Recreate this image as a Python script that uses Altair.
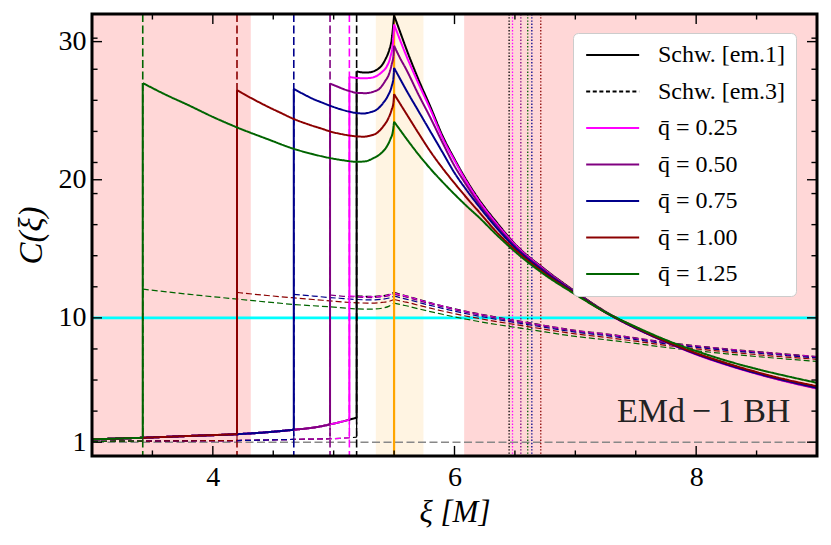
import altair as alt
import pandas as pd

FONT = "Liberation Serif, Times New Roman, DejaVu Serif, serif"
W, H = 725, 442

# ---------------- data ----------------
SERIES = ["Schw. [em.1]", "Schw. [em.3]", "q\u0304 = 0.25", "q\u0304 = 0.50",
          "q\u0304 = 0.75", "q\u0304 = 1.00", "q\u0304 = 1.25"]
COLORS = ["#000000", "#000000", "#ff00ff", "#800080", "#00008b", "#8b0000", "#006400"]
DASHES = [[1, 0], [4, 2.6], [1, 0], [1, 0], [1, 0], [1, 0], [1, 0]]

KEYS = ["schw", "q025", "q050", "q075", "q100", "q125"]
LABEL_EM1 = {"schw": SERIES[0], "q025": SERIES[2], "q050": SERIES[3],
             "q075": SERIES[4], "q100": SERIES[5], "q125": SERIES[6]}
LABEL_EM3 = {"schw": SERIES[1], "q025": SERIES[2], "q050": SERIES[3],
             "q075": SERIES[4], "q100": SERIES[5], "q125": SERIES[6]}

X_START = {"schw": 5.19, "q025": 5.13, "q050": 4.97, "q075": 4.67, "q100": 4.2, "q125": 3.42}
X_DOTTED = {"schw": 6.452, "q025": 6.48, "q050": 6.549, "q075": 6.64, "q100": 6.714, "q125": 6.606}

# inner (left) branches, common to all models
LEFT_X = [3.0, 3.2, 3.42, 3.8, 4.2, 4.45, 4.67, 4.85, 4.97, 5.05, 5.13, 5.19]
LEFT_Y_EM1 = [1.2, 1.26, 1.32, 1.45, 1.58, 1.72, 1.9, 2.08, 2.29, 2.45, 2.63, 2.77]
LEFT_Y_EM3 = [1.06, 1.07, 1.08, 1.1, 1.12, 1.16, 1.2, 1.23, 1.25, 1.28, 1.32, 1.36]

# [em.1] outer branch up to the cusp at xi = 5.5
PRE1_X = {
    "schw": [5.19, 5.23, 5.27, 5.32, 5.36, 5.40, 5.43, 5.46, 5.48, 5.5],
    "q025": [5.13, 5.18, 5.25, 5.31, 5.36, 5.40, 5.44, 5.47, 5.49, 5.5],
    "q050": [4.97, 5.03, 5.08, 5.14, 5.2, 5.27, 5.33, 5.38, 5.425, 5.46, 5.48, 5.495, 5.5],
    "q075": [4.67, 4.75, 4.83, 4.9, 4.97, 5.05, 5.12, 5.19, 5.25, 5.3, 5.36, 5.41, 5.45, 5.48, 5.495, 5.5],
    "q100": [4.2, 4.32, 4.45, 4.56, 4.67, 4.8, 4.9, 4.97, 5.08, 5.19, 5.25, 5.3, 5.36, 5.41, 5.45, 5.48, 5.495, 5.5],
    "q125": [3.42, 3.6, 3.81, 4.0, 4.2, 4.45, 4.67, 4.83, 4.97, 5.07, 5.19, 5.26, 5.33, 5.39, 5.44, 5.47, 5.49, 5.5],
}
PRE1_Y = {
    "schw": [27.85, 27.78, 27.76, 27.82, 27.98, 28.3, 28.75, 29.4, 30.15, 31.9],
    "q025": [27.45, 27.38, 27.35, 27.38, 27.54, 27.8, 28.21, 28.9, 29.9, 31.24],
    "q050": [26.96, 26.75, 26.57, 26.4, 26.28, 26.27, 26.38, 26.6, 27.13, 27.7, 28.34, 29.0, 29.7],
    "q075": [26.57, 26.2, 25.85, 25.6, 25.36, 25.12, 24.95, 24.83, 24.8, 24.88, 25.1, 25.56, 26.1, 26.76, 27.4, 28.1],
    "q100": [26.48, 25.9, 25.31, 24.85, 24.4, 23.98, 23.7, 23.5, 23.28, 23.14, 23.12, 23.19, 23.4, 23.86, 24.4, 25.07, 25.6, 26.2],
    "q125": [27.0, 26.2, 25.35, 24.55, 23.79, 22.95, 22.24, 21.85, 21.57, 21.42, 21.3, 21.33, 21.57, 21.9, 22.41, 22.95, 23.5, 24.2],
}

# outer branch after the cusp (common xi grid)
POST_X = [5.5, 5.55, 5.6, 5.7, 5.8, 5.9, 6.0, 6.1, 6.2, 6.35, 6.5, 6.75, 7.0, 7.25, 7.5, 7.75, 8.0, 8.25, 8.5, 8.75, 9.0]
POST1_Y = {
    "schw": [31.9, 30.7, 29.5, 27.3, 25.3, 23.2, 21.5, 19.95, 18.6, 16.9, 15.35, 13.5, 11.9, 10.45, 9.3, 8.3, 7.4, 6.7, 6.0, 5.45, 4.95],
    "q025": [31.24, 30.1, 29.0, 27.0, 25.1, 23.05, 21.4, 19.85, 18.5, 16.8, 15.3, 13.45, 11.85, 10.4, 9.25, 8.25, 7.35, 6.6, 5.95, 5.38, 4.88],
    "q050": [29.7, 28.8, 28.0, 26.2, 24.5, 22.7, 21.0, 19.6, 18.3, 16.65, 15.2, 13.4, 11.85, 10.4, 9.25, 8.25, 7.37, 6.62, 5.97, 5.4, 4.9],
    "q075": [28.1, 27.3, 26.5, 25.0, 23.5, 22.0, 20.5, 19.25, 18.1, 16.5, 15.1, 13.3, 11.8, 10.4, 9.25, 8.27, 7.4, 6.65, 6.0, 5.45, 4.95],
    "q100": [26.2, 25.5, 24.8, 23.4, 22.05, 20.85, 19.75, 18.7, 17.7, 16.2, 14.95, 13.2, 11.75, 10.4, 9.3, 8.3, 7.45, 6.72, 6.08, 5.52, 5.05],
    "q125": [24.2, 23.6, 23.0, 21.85, 20.8, 19.85, 18.95, 18.1, 17.3, 16.0, 14.8, 13.1, 11.7, 10.4, 9.35, 8.4, 7.6, 6.9, 6.3, 5.78, 5.3],
}

# [em.3] outer branch up to the cusp
PRE3_X = {
    "schw": [5.19, 5.3, 5.4, 5.46, 5.5],
    "q025": [5.13, 5.2, 5.3, 5.4, 5.46, 5.5],
    "q050": [4.97, 5.08, 5.19, 5.3, 5.4, 5.46, 5.5],
    "q075": [4.67, 4.83, 4.97, 5.08, 5.19, 5.3, 5.4, 5.46, 5.5],
    "q100": [4.2, 4.45, 4.67, 4.83, 4.97, 5.08, 5.19, 5.3, 5.4, 5.46, 5.5],
    "q125": [3.42, 3.81, 4.2, 4.45, 4.67, 4.97, 5.19, 5.3, 5.4, 5.46, 5.5],
}
PRE3_Y = {
    "schw": [11.6, 11.55, 11.6, 11.7, 11.85],
    "q025": [11.6, 11.55, 11.52, 11.57, 11.66, 11.8],
    "q050": [11.65, 11.56, 11.5, 11.47, 11.52, 11.6, 11.72],
    "q075": [11.7, 11.58, 11.47, 11.4, 11.33, 11.3, 11.35, 11.44, 11.57],
    "q100": [11.84, 11.62, 11.45, 11.33, 11.23, 11.15, 11.09, 11.07, 11.12, 11.2, 11.33],
    "q125": [12.08, 11.7, 11.36, 11.15, 10.97, 10.8, 10.65, 10.63, 10.7, 10.85, 11.07],
}
POST3_Y = {
    "schw": [11.85, 11.72, 11.6, 11.35, 11.1, 10.88, 10.66, 10.47, 10.3, 10.05, 9.82, 9.45, 9.1, 8.85, 8.55, 8.23, 7.98, 7.76, 7.56, 7.38, 7.2],
    "q025": [11.8, 11.68, 11.57, 11.32, 11.07, 10.85, 10.63, 10.44, 10.27, 10.02, 9.79, 9.42, 9.07, 8.82, 8.52, 8.2, 7.95, 7.73, 7.53, 7.35, 7.18],
    "q050": [11.72, 11.6, 11.5, 11.26, 11.02, 10.8, 10.59, 10.4, 10.23, 9.98, 9.76, 9.39, 9.04, 8.79, 8.5, 8.18, 7.93, 7.71, 7.51, 7.33, 7.16],
    "q075": [11.57, 11.46, 11.36, 11.13, 10.9, 10.69, 10.48, 10.3, 10.13, 9.89, 9.67, 9.31, 8.97, 8.72, 8.43, 8.12, 7.87, 7.65, 7.45, 7.27, 7.1],
    "q100": [11.33, 11.23, 11.14, 10.92, 10.7, 10.5, 10.3, 10.12, 9.96, 9.73, 9.52, 9.17, 8.84, 8.59, 8.31, 8.01, 7.76, 7.54, 7.34, 7.16, 7.0],
    "q125": [11.07, 10.97, 10.88, 10.66, 10.45, 10.26, 10.07, 9.9, 9.74, 9.52, 9.32, 8.98, 8.66, 8.42, 8.15, 7.86, 7.62, 7.4, 7.2, 7.02, 6.85],
}

BANDS_PINK = [(3.0, 4.314), (6.08, 9.0)]
BANDS_ORANGE = [(5.349, 5.743)]
H_CYAN = 10
H_GRAY = 1
V_ORANGE = 5.5

X_MAJOR = [4, 6, 8]
X_MINOR = [3.5, 4.5, 5.0, 5.5, 6.5, 7.0, 7.5, 8.5]
Y_MAJOR = [1, 10, 20, 30]
Y_MINOR = [3.25, 5.5, 7.75, 12.25, 14.5, 16.75, 19.0, 21.25, 23.5, 25.75, 28.0, 30.25]

ANNOT_TEXT = "EMd\u2009\u2212\u20091 BH"
ANNOT_POS = (8.78, 2.45)

# tick lengths expressed in data units (major ~10 px, minor ~5.5 px)
TICK_DY = {"major": 0.73, "minor": 0.40}
TICK_DX = {"major": 0.083, "minor": 0.046}

# ---------------- encodings ----------------
XS = alt.Scale(domain=[3, 9], nice=False, zero=False)
YS = alt.Scale(domain=[0, 32], nice=False, zero=False)
XAX = alt.Axis(values=X_MAJOR, ticks=False, domain=False, grid=False, format="d",
               labelFont=FONT, labelFontSize=28, labelPadding=7, labelColor="black",
               title="\u03be [M]", titleFont=FONT, titleFontSize=31, titleFontStyle="italic",
               titleFontWeight="normal", titlePadding=6, titleColor="black")
YAX = alt.Axis(values=Y_MAJOR, ticks=False, domain=False, grid=False, format="d",
               labelFont=FONT, labelFontSize=28, labelPadding=6, labelColor="black",
               title="C(\u03be)", titleFont=FONT, titleFontSize=33, titleFontStyle="italic",
               titleFontWeight="normal", titlePadding=10, titleColor="black")


def X(f):
    return alt.X(f, type="quantitative", scale=XS, axis=XAX)


def Y(f):
    return alt.Y(f, type="quantitative", scale=YS, axis=YAX)


def XD(v):
    return alt.XDatum(v, type="quantitative", scale=XS, axis=XAX)


def YD(v):
    return alt.YDatum(v, type="quantitative", scale=YS, axis=YAX)


CSCALE = alt.Scale(domain=SERIES, range=COLORS)
DSCALE = alt.Scale(domain=SERIES, range=DASHES)
# legend line symbol: custom path from -r to 5r (r = sqrt(size)/2) -> ~53 px long
LEG = alt.Legend(orient="none", legendX=481, legendY=19, title=None,
                 fillColor="white", strokeColor="#cccccc", cornerRadius=5,
                 padding=10, rowPadding=12.5, labelFont=FONT, labelFontSize=24,
                 labelColor="black", labelOffset=51, symbolType="M-1,0H5",
                 symbolSize=312, symbolStrokeWidth=1.8, labelLimit=300)


def C():
    return alt.Color("series:N", scale=CSCALE, legend=LEG)


layers = []

# background bands
pink = pd.DataFrame(BANDS_PINK, columns=["x0", "x1"])
orng = pd.DataFrame(BANDS_ORANGE, columns=["x0", "x1"])
layers.append(alt.Chart(pink).mark_rect(color="#ffd7d7").encode(
    x=X("x0"), x2="x1", y=YD(0), y2=alt.Y2Datum(32)))
layers.append(alt.Chart(orng).mark_rect(color="#fff4e2").encode(
    x=X("x0"), x2="x1", y=YD(0), y2=alt.Y2Datum(32)))

# reference lines
layers.append(alt.Chart(pd.DataFrame({"y": [H_CYAN]})).mark_rule(
    color="#00ffff", strokeWidth=2.6).encode(y=Y("y")))
layers.append(alt.Chart(pd.DataFrame({"y": [H_GRAY]})).mark_rule(
    color="#888888", strokeWidth=1.6, strokeDash=[8, 3.5]).encode(y=Y("y")))

# dotted vertical lines
dot = pd.DataFrame({"x": [X_DOTTED[k] for k in KEYS], "series": [LABEL_EM1[k] for k in KEYS]})
layers.append(alt.Chart(dot).mark_rule(strokeWidth=1.3, strokeDash=[1.4, 1.8]).encode(
    x=X("x"), color=C()))

# dashed full-height lines at the inner edge
vst = pd.DataFrame({"x": [X_START[k] for k in KEYS], "series": [LABEL_EM1[k] for k in KEYS]})
layers.append(alt.Chart(vst).mark_rule(strokeWidth=1.6, strokeDash=[8, 3.5]).encode(
    x=X("x"), color=C()))

# [em.3] dashed curves
for k in KEYS:
    xs = X_START[k]
    rows = []
    for x, y in zip(LEFT_X, LEFT_Y_EM3):
        if x <= xs + 1e-9:
            rows.append({"x": x, "y": y, "seg": "a"})
    for x, y in zip(PRE3_X[k], PRE3_Y[k]):
        rows.append({"x": x, "y": y, "seg": "b"})
    for x, y in zip(POST_X, POST3_Y[k]):
        rows.append({"x": x, "y": y, "seg": "c"})
    df = pd.DataFrame(rows)
    df["series"] = LABEL_EM3[k]
    layers.append(alt.Chart(df).mark_line(interpolate="monotone", strokeWidth=1.2,
                                          strokeDash=[6, 3], clip=True).encode(
        x=X("x"), y=Y("y"), detail="seg:N", color=C()))
    con = pd.DataFrame({"x": [xs], "y": [LEFT_Y_EM3[LEFT_X.index(xs)]],
                        "y2": [PRE3_Y[k][0]], "series": [LABEL_EM3[k]]})
    layers.append(alt.Chart(con).mark_rule(strokeWidth=1.2, strokeDash=[6, 3]).encode(
        x=X("x"), y=Y("y"), y2="y2", color=C()))

# orange cusp line
layers.append(alt.Chart(pd.DataFrame({"x": [V_ORANGE]})).mark_rule(
    color="#ffa500", strokeWidth=2.2).encode(x=X("x")))

# [em.1] solid curves
for k in KEYS:
    xs = X_START[k]
    rows = []
    for x, y in zip(LEFT_X, LEFT_Y_EM1):
        if x <= xs + 1e-9:
            rows.append({"x": x, "y": y, "seg": "a"})
    for x, y in zip(PRE1_X[k], PRE1_Y[k]):
        rows.append({"x": x, "y": y, "seg": "b"})
    for x, y in zip(POST_X, POST1_Y[k]):
        rows.append({"x": x, "y": y, "seg": "c"})
    df = pd.DataFrame(rows)
    df["series"] = LABEL_EM1[k]
    con = pd.DataFrame({"x": [xs], "y": [LEFT_Y_EM1[LEFT_X.index(xs)]],
                        "y2": [PRE1_Y[k][0]], "series": [LABEL_EM1[k]]})
    layers.append(alt.Chart(con).mark_rule(strokeWidth=2).encode(
        x=X("x"), y=Y("y"), y2="y2", color=C()))
    layers.append(alt.Chart(df).mark_line(interpolate="monotone", strokeWidth=2, clip=True).encode(
        x=X("x"), y=Y("y"), detail="seg:N", color=C(),
        strokeDash=alt.StrokeDash("series:N", scale=DSCALE, legend=LEG)))

# inward ticks on all four sides (rules whose length is given in data units)
for kind, vals in (("major", X_MAJOR), ("minor", X_MINOR)):
    dfv = pd.DataFrame({"v": vals})
    d = TICK_DY[kind]
    layers.append(alt.Chart(dfv).mark_rule(color="black", strokeWidth=1.4).encode(
        x=X("v"), y=YD(0), y2=alt.Y2Datum(d)))
    layers.append(alt.Chart(dfv).mark_rule(color="black", strokeWidth=1.4).encode(
        x=X("v"), y=YD(32 - d), y2=alt.Y2Datum(32)))
for kind, vals in (("major", Y_MAJOR), ("minor", Y_MINOR)):
    dfv = pd.DataFrame({"v": vals})
    d = TICK_DX[kind]
    layers.append(alt.Chart(dfv).mark_rule(color="black", strokeWidth=1.4).encode(
        y=Y("v"), x=XD(3), x2=alt.X2Datum(3 + d)))
    layers.append(alt.Chart(dfv).mark_rule(color="black", strokeWidth=1.4).encode(
        y=Y("v"), x=XD(9 - d), x2=alt.X2Datum(9)))

# annotation
layers.append(alt.Chart(pd.DataFrame({"t": [ANNOT_TEXT]})).mark_text(
    align="right", baseline="alphabetic", font=FONT, fontSize=34, color="#222222").encode(
    x=XD(ANNOT_POS[0]), y=YD(ANNOT_POS[1]), text="t:N"))

# plot frame on top of everything
layers.append(alt.Chart(pd.DataFrame({"a": [0]})).mark_rect(
    fillOpacity=0, stroke="black", strokeWidth=3).encode(
    x=XD(3), x2=alt.X2Datum(9), y=YD(0), y2=alt.Y2Datum(32)))

chart = alt.layer(*layers).properties(
    width=W, height=H, background="white",
    padding={"left": 84, "top": 6, "right": 6, "bottom": 80},
    autosize=alt.AutoSizeParams(type="none"),
).configure_view(stroke=None).configure_legend(labelFont=FONT, labelFontSize=24)

chart.save("out.html", embed_options={"renderer": "svg", "actions": False})
